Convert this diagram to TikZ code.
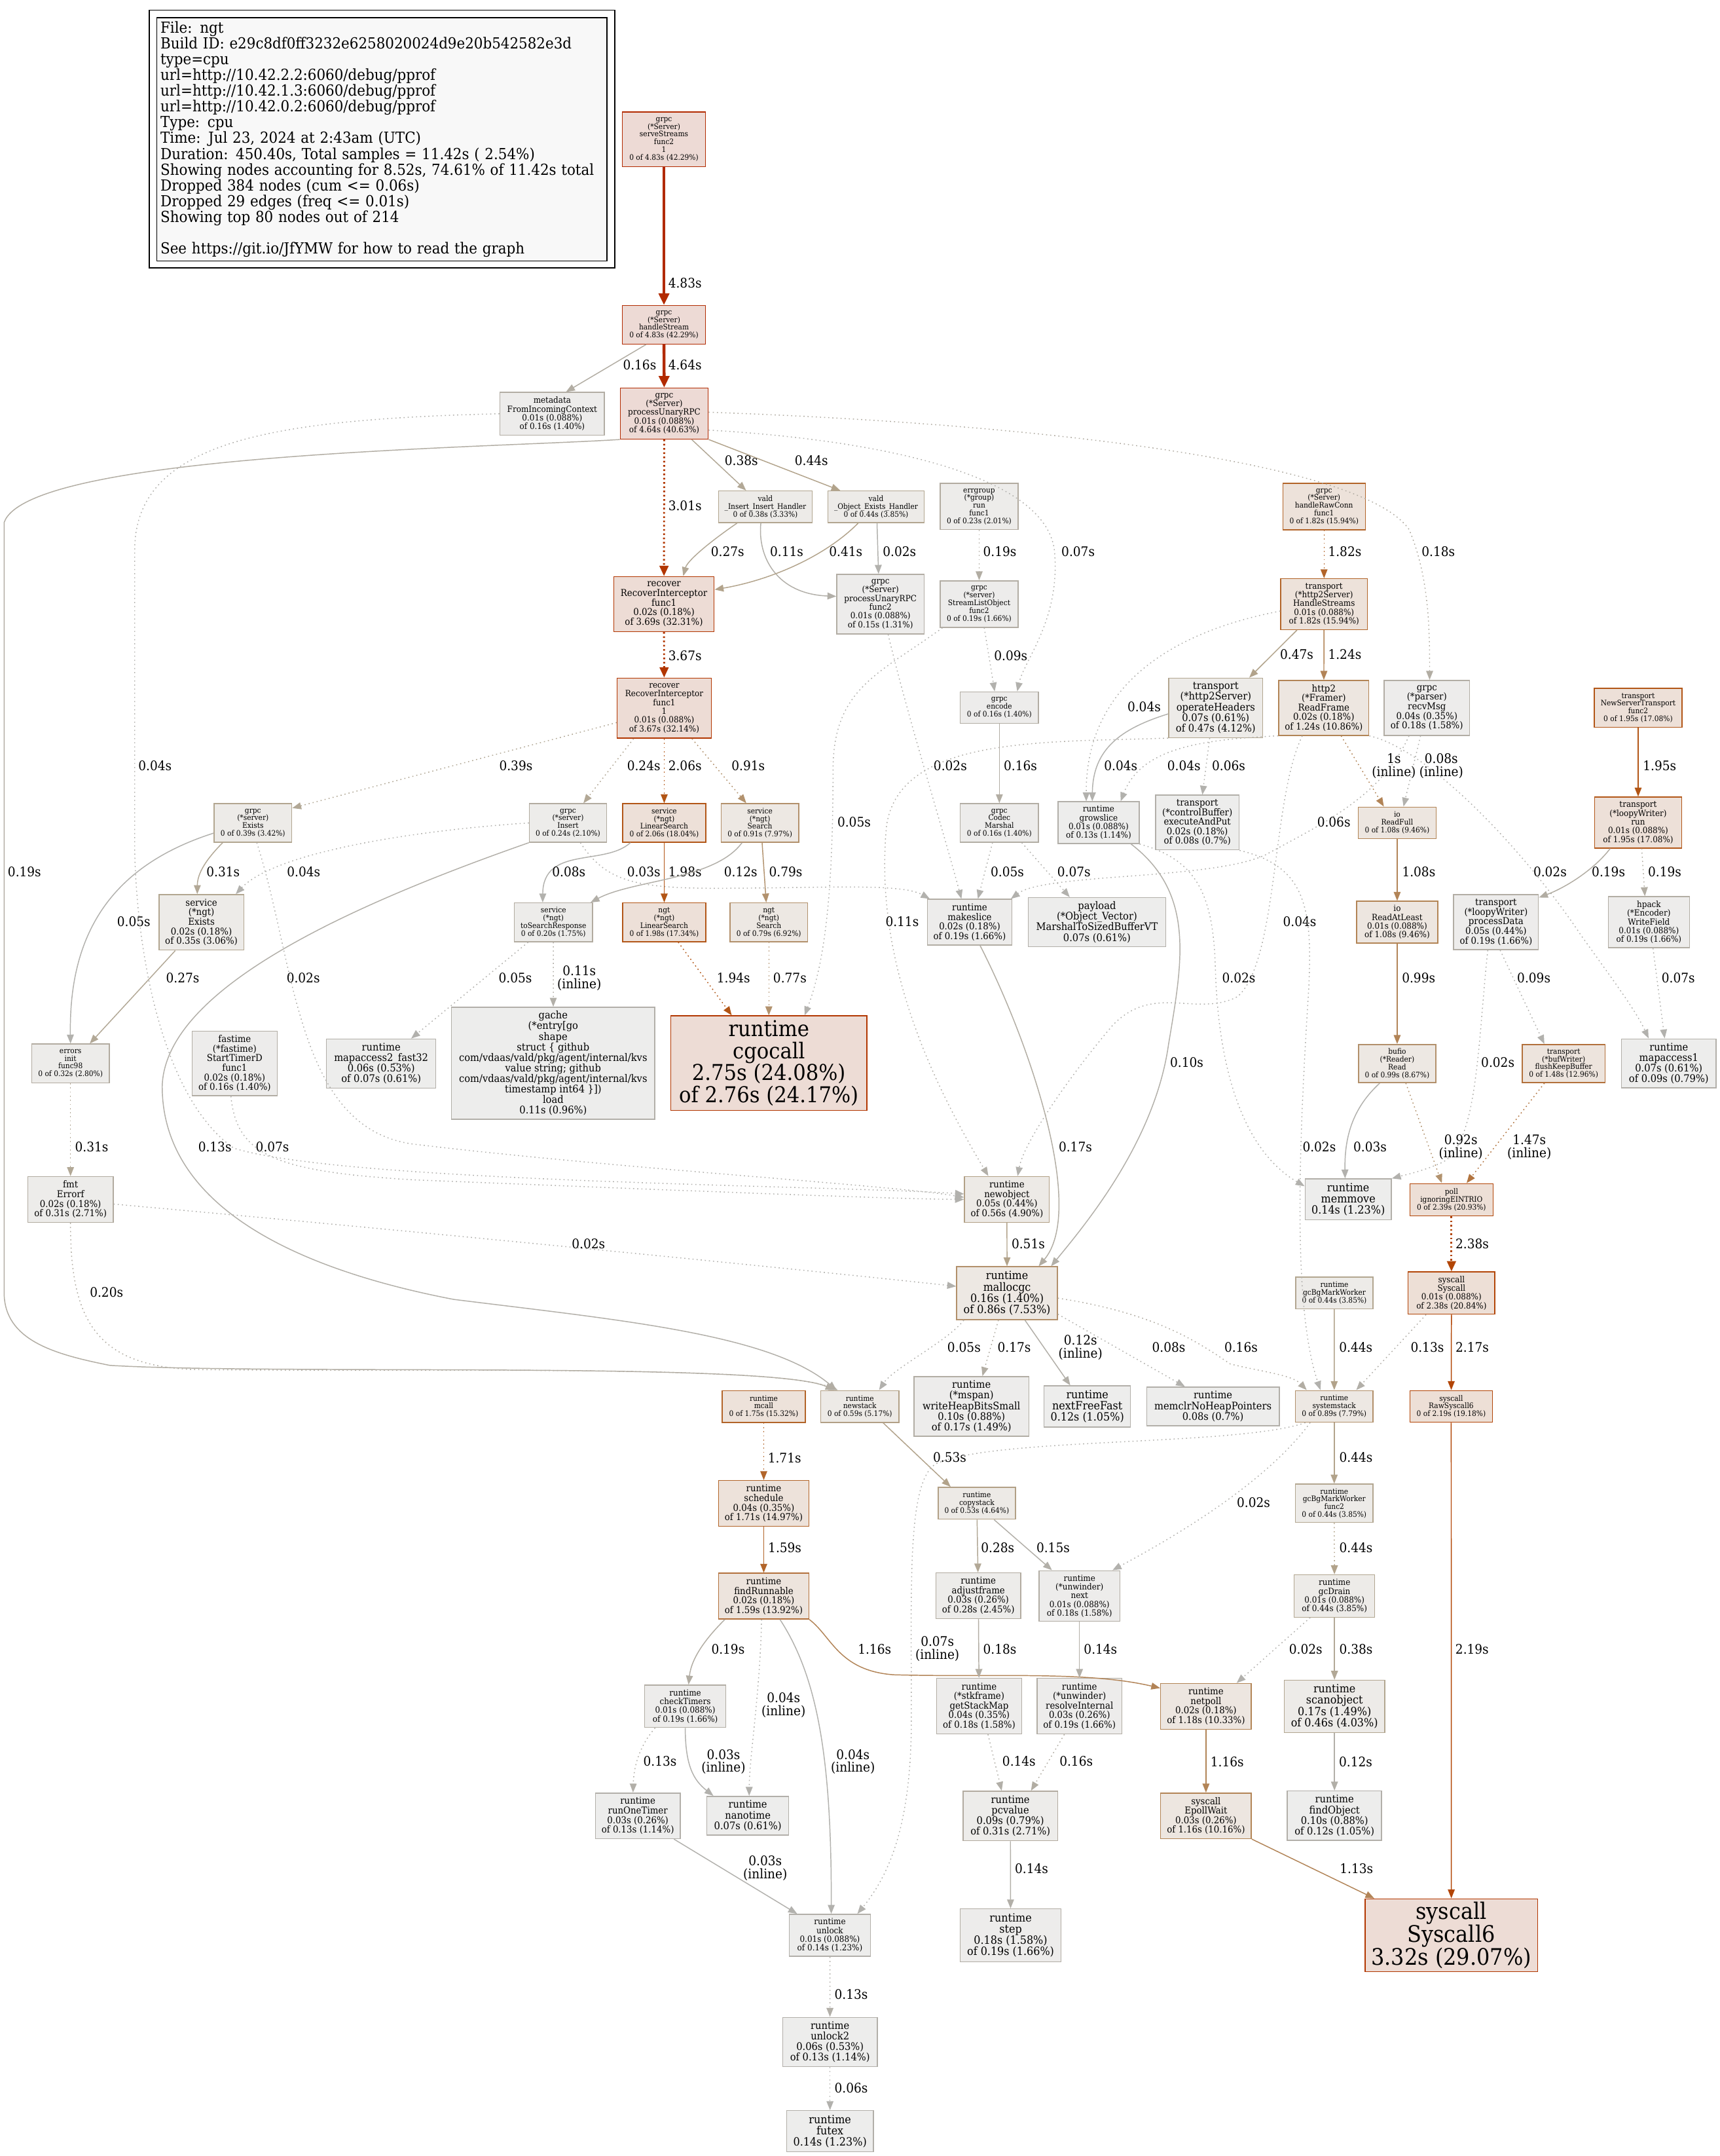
\documentclass[tikz,border=0pt]{standalone}
\usepackage{fontspec}
\setmainfont{DejaVu Serif}[FakeStretch=0.92]
\usetikzlibrary{arrows.meta}

% node colours (fill / border)
\definecolor{nhotf}{HTML}{EDDAD5}\definecolor{nhotd}{HTML}{B22A00}
\definecolor{nredf}{HTML}{EDDCD5}\definecolor{nredd}{HTML}{B23600}
\definecolor{nsysf}{HTML}{EDDFD6}\definecolor{nsysd}{HTML}{B24507}
\definecolor{noraf}{HTML}{EDE0D8}\definecolor{norad}{HTML}{B25617}
\definecolor{norbf}{HTML}{EDE2DA}\definecolor{norbd}{HTML}{B26428}
\definecolor{norcf}{HTML}{EDE4DD}\definecolor{norcd}{HTML}{B2703B}
\definecolor{ntanf}{HTML}{EDE6E0}\definecolor{ntand}{HTML}{B28455}
\definecolor{ntanbf}{HTML}{EDE8E3}\definecolor{ntanbd}{HTML}{B2906B}
\definecolor{nbeif}{HTML}{EDEAE6}\definecolor{nbeid}{HTML}{B2A086}
\definecolor{nbeibf}{HTML}{EDEBE8}\definecolor{nbeibd}{HTML}{B2A690}
\definecolor{ngryf}{HTML}{EDECEA}\definecolor{ngryd}{HTML}{B2ABA0}
\definecolor{ngrybf}{HTML}{EDECEB}\definecolor{ngrybd}{HTML}{B2ADA4}
\definecolor{ngrycf}{HTML}{EDEDEC}\definecolor{ngrycd}{HTML}{B2AFA9}
\definecolor{legfill}{HTML}{F8F8F8}
% edge colours
\definecolor{ehot}{HTML}{B22A00}
\definecolor{ered}{HTML}{B23600}
\definecolor{esys}{HTML}{B24505}
\definecolor{eora}{HTML}{B25515}
\definecolor{eorb}{HTML}{B2652A}
\definecolor{eorc}{HTML}{B2743F}
\definecolor{etan}{HTML}{B28457}
\definecolor{etanb}{HTML}{B2926E}
\definecolor{ebei}{HTML}{B2A38B}
\definecolor{ebeib}{HTML}{B2A896}
\definecolor{egry}{HTML}{B2ADA3}
\definecolor{egryb}{HTML}{B2AFA8}
\definecolor{egryc}{HTML}{B2B1AD}

\tikzset{
  fnbox/.style={draw, rectangle, inner sep=0pt, align=center, line width=0.7pt},
  f8/.style={font=\fontsize{5.52}{5.63}\selectfont},
  f9/.style={font=\fontsize{6.21}{6.35}\selectfont},
  f10/.style={font=\fontsize{6.9}{6.95}\selectfont},
  f11/.style={font=\fontsize{7.59}{7.65}\selectfont},
  f12/.style={font=\fontsize{8.28}{8.2}\selectfont},
  f23/.style={font=\fontsize{15.87}{16}\selectfont},
  f24/.style={font=\fontsize{16.56}{16.7}\selectfont},
  nHot/.style={fill=nhotf, draw=nhotd},
  nRed/.style={fill=nredf, draw=nredd},
  nSys/.style={fill=nsysf, draw=nsysd},
  nOra/.style={fill=noraf, draw=norad},
  nOrb/.style={fill=norbf, draw=norbd},
  nOrc/.style={fill=norcf, draw=norcd},
  nTan/.style={fill=ntanf, draw=ntand},
  nTanb/.style={fill=ntanbf, draw=ntanbd},
  nBei/.style={fill=nbeif, draw=nbeid},
  nBeib/.style={fill=nbeibf, draw=nbeibd},
  nGry/.style={fill=ngryf, draw=ngryd},
  nGryb/.style={fill=ngrybf, draw=ngrybd},
  nGryc/.style={fill=ngrycf, draw=ngrycd},
  legbox/.style={draw=black, fill=legfill, line width=0.7pt, inner sep=0pt,
    minimum width=327.5pt, minimum height=177pt, text width=322pt, align=left,
    font=\fontsize{11.1}{11.48}\selectfont},
  lab/.style={inner sep=0pt, align=center, font=\fontsize{9.6}{9.5}\selectfont},
  lbl/.style={lab, anchor=west},
  ln/.style={line width=0.7pt, -{Triangle[length=6.5pt,width=5pt]}},
  ew2/.style={line width=1.4pt, -{Triangle[length=7.5pt,width=6.5pt]}},
  ew3/.style={line width=2.1pt, -{Triangle[length=8.5pt,width=7.5pt]}},
  dotd/.style={dash pattern=on 0.8pt off 2.2pt},
  dotw/.style={dash pattern=on 1.2pt off 1.9pt},
  eHot/.style={draw=ehot}, eRed/.style={draw=ered}, eSys/.style={draw=esys},
  eOra/.style={draw=eora}, eOrb/.style={draw=eorb}, eOrc/.style={draw=eorc},
  eTan/.style={draw=etan}, eTanb/.style={draw=etanb},
  eBei/.style={draw=ebei}, eBeib/.style={draw=ebeib},
  eGry/.style={draw=egry}, eGryb/.style={draw=egryb}, eGryc/.style={draw=egryc}
}

\begin{document}
\begin{tikzpicture}[x=1pt, y=-1pt]
\useasboundingbox (0,0) rectangle (1251,1568);
\fill[white] (0,0) rectangle (1251,1568);

% legend
\node[legbox] (legend) at (277.75,101.3) {File: ngt\\Build ID: e29c8df0ff3232e6258020024d9e20b542582e3d\\type=cpu\\url=http://10.42.2.2:6060/debug/pprof\\url=http://10.42.1.3:6060/debug/pprof\\url=http://10.42.0.2:6060/debug/pprof\\Type: cpu\\Time: Jul 23, 2024 at 2:43am (UTC)\\Duration: 450.40s, Total samples = 11.42s ( 2.54\%)\\Showing nodes accounting for 8.52s, 74.61\% of 11.42s total\\Dropped 384 nodes (cum <= 0.06s)\\Dropped 29 edges (freq <= 0.01s)\\Showing top 80 nodes out of 214\\[11.48pt]See https://git.io/JfYMW for how to read the graph};
\draw[line width=0.7pt] ([shift={(-5pt,5pt)}]legend.north west) rectangle ([shift={(5.5pt,-4.7pt)}]legend.south east);

% nodes
\node[fnbox, f8, nHot, minimum width=60.4pt, minimum height=39.8pt] (serve) at (483,101.3) {grpc\\(*Server)\\serveStreams\\func2\\1\\0 of 4.83s (42.29\%)};
\node[fnbox, f8, nHot, minimum width=60.4pt, minimum height=28pt] (hstream) at (483,236.2) {grpc\\(*Server)\\handleStream\\0 of 4.83s (42.29\%)};
\node[fnbox, f9, nGryb, minimum width=76pt, minimum height=31pt] (meta) at (401.7,300.9) {metadata\\FromIncomingContext\\0.01s (0.088\%)\\of 0.16s (1.40\%)};
\node[fnbox, f9, nHot, minimum width=64pt, minimum height=37pt] (punary) at (483.2,300.8) {grpc\\(*Server)\\processUnaryRPC\\0.01s (0.088\%)\\of 4.64s (40.63\%)};
\node[fnbox, f8, nBeib, minimum width=68pt, minimum height=23pt] (vins) at (556.8,368.6) {vald\\\_Insert\_Insert\_Handler\\0 of 0.38s (3.33\%)};
\node[fnbox, f8, nBeib, minimum width=70pt, minimum height=23pt] (vobj) at (637.3,368.6) {vald\\\_Object\_Exists\_Handler\\0 of 0.44s (3.85\%)};
\node[fnbox, f8, nGry, minimum width=56.5pt, minimum height=33.6pt] (errg) at (712.3,368.4) {errgroup\\(*group)\\run\\func1\\0 of 0.23s (2.01\%)};
\node[fnbox, f8, nOrb, minimum width=60pt, minimum height=33.8pt] (hraw) at (963.2,368.4) {grpc\\(*Server)\\handleRawConn\\func1\\0 of 1.82s (15.94\%)};
\node[fnbox, f10, nRed, minimum width=73pt, minimum height=40pt] (rec1) at (483,439.3) {recover\\RecoverInterceptor\\func1\\0.02s (0.18\%)\\of 3.69s (32.31\%)};
\node[fnbox, f9, nGryb, minimum width=63.5pt, minimum height=43.4pt] (pfunc2) at (640.5,439.4) {grpc\\(*Server)\\processUnaryRPC\\func2\\0.01s (0.088\%)\\of 0.15s (1.31\%)};
\node[fnbox, f8, nGryb, minimum width=56.5pt, minimum height=33.8pt] (slist) at (712.3,439.3) {grpc\\(*server)\\StreamListObject\\func2\\0 of 0.19s (1.66\%)};
\node[fnbox, f9, nOrb, minimum width=63pt, minimum height=37pt] (hstreams) at (963.2,439.4) {transport\\(*http2Server)\\HandleStreams\\0.01s (0.088\%)\\of 1.82s (15.94\%)};
\node[fnbox, f9, nRed, minimum width=68.4pt, minimum height=43.8pt] (rec2) at (483.2,515) {recover\\RecoverInterceptor\\func1\\1\\0.01s (0.088\%)\\of 3.67s (32.14\%)};
\node[fnbox, f8, nGryb, minimum width=57pt, minimum height=23pt] (encode) at (727,514.7) {grpc\\encode\\0 of 0.16s (1.40\%)};
\node[fnbox, f11, nBeib, minimum width=68.5pt, minimum height=43.3pt] (ophdr) at (884.4,514.8) {transport\\(*http2Server)\\operateHeaders\\0.07s (0.61\%)\\of 0.47s (4.12\%)};
\node[fnbox, f10, nTan, minimum width=65.6pt, minimum height=40pt] (rframe) at (963,514.8) {http2\\(*Framer)\\ReadFrame\\0.02s (0.18\%)\\of 1.24s (10.86\%)};
\node[fnbox, f10, nGryb, minimum width=62pt, minimum height=40pt] (recvmsg) at (1038,514.8) {grpc\\(*parser)\\recvMsg\\0.04s (0.35\%)\\of 0.18s (1.58\%)};
\node[fnbox, f8, nOra, minimum width=63.8pt, minimum height=28.2pt] (nst) at (1191.7,514.8) {transport\\NewServerTransport\\func2\\0 of 1.95s (17.08\%)};
\node[fnbox, f8, nBeib, minimum width=56.5pt, minimum height=28pt] (gexists) at (184,598.5) {grpc\\(*server)\\Exists\\0 of 0.39s (3.42\%)};
\node[fnbox, f8, nGry, minimum width=56.2pt, minimum height=28pt] (ginsert) at (413.2,598.5) {grpc\\(*server)\\Insert\\0 of 0.24s (2.10\%)};
\node[fnbox, f8, nOra, minimum width=60.4pt, minimum height=28pt] (slin) at (483.2,598.5) {service\\(*ngt)\\LinearSearch\\0 of 2.06s (18.04\%)};
\node[fnbox, f8, nTanb, minimum width=56.5pt, minimum height=28pt] (ssearch) at (552.8,598.5) {service\\(*ngt)\\Search\\0 of 0.91s (7.97\%)};
\node[fnbox, f8, nGryb, minimum width=56.8pt, minimum height=28pt] (marshal) at (727,598.5) {grpc\\Codec\\Marshal\\0 of 0.16s (1.40\%)};
\node[fnbox, f9, nGryc, minimum width=59pt, minimum height=30.4pt] (growslice) at (799.2,598.3) {runtime\\growslice\\0.01s (0.088\%)\\of 0.13s (1.14\%)};
\node[fnbox, f10, nGryc, minimum width=60.8pt, minimum height=39.8pt] (execput) at (871,598.2) {transport\\(*controlBuffer)\\executeAndPut\\0.02s (0.18\%)\\of 0.08s (0.7\%)};
\node[fnbox, f8, nTan, minimum width=56.7pt, minimum height=22.9pt] (rfull) at (1016.4,598.4) {io\\ReadFull\\0 of 1.08s (9.46\%)};
\node[fnbox, f9, nOra, minimum width=63.2pt, minimum height=37pt] (lrun) at (1191.7,598.2) {transport\\(*loopyWriter)\\run\\0.01s (0.088\%)\\of 1.95s (17.08\%)};
\node[fnbox, f10, nBeib, minimum width=61.7pt, minimum height=40.4pt] (sexists) at (146.5,670.8) {service\\(*ngt)\\Exists\\0.02s (0.18\%)\\of 0.35s (3.06\%)};
\node[fnbox, f8, nGry, minimum width=56.8pt, minimum height=28.2pt] (tosr) at (402.6,670.8) {service\\(*ngt)\\toSearchResponse\\0 of 0.20s (1.75\%)};
\node[fnbox, f8, nOra, minimum width=60.4pt, minimum height=28.2pt] (nlin) at (483.2,670.8) {ngt\\(*ngt)\\LinearSearch\\0 of 1.98s (17.34\%)};
\node[fnbox, f8, nTanb, minimum width=56.5pt, minimum height=28.2pt] (nsearch) at (559.3,670.8) {ngt\\(*ngt)\\Search\\0 of 0.79s (6.92\%)};
\node[fnbox, f10, nGryb, minimum width=61.3pt, minimum height=33.3pt] (makeslice) at (705.4,670.7) {runtime\\makeslice\\0.02s (0.18\%)\\of 0.19s (1.66\%)};
\node[fnbox, f11, nGryc, minimum width=100pt, minimum height=35.7pt] (payload) at (798,670.7) {payload\\(*Object\_Vector)\\MarshalToSizedBufferVT\\0.07s (0.61\%)};
\node[fnbox, f9, nTan, minimum width=59pt, minimum height=30.4pt] (ratl) at (1016.4,670.7) {io\\ReadAtLeast\\0.01s (0.088\%)\\of 1.08s (9.46\%)};
\node[fnbox, f10, nGryb, minimum width=61.7pt, minimum height=40pt] (pdata) at (1088.3,670.7) {transport\\(*loopyWriter)\\processData\\0.05s (0.44\%)\\of 0.19s (1.66\%)};
\node[fnbox, f9, nGryb, minimum width=59pt, minimum height=37.2pt] (hpack) at (1199.5,670.7) {hpack\\(*Encoder)\\WriteField\\0.01s (0.088\%)\\of 0.19s (1.66\%)};
\node[fnbox, f8, nGry, minimum width=56.5pt, minimum height=28.2pt] (einit) at (51.3,773.4) {errors\\init\\func98\\0 of 0.32s (2.80\%)};
\node[fnbox, f10, nGryb, minimum width=62pt, minimum height=47pt] (fastime) at (170.7,773.4) {fastime\\(*fastime)\\StartTimerD\\func1\\0.02s (0.18\%)\\of 0.16s (1.40\%)};
\node[fnbox, f11, nGryc, minimum width=79.5pt, minimum height=35.7pt] (mapacc2) at (277.3,773.5) {runtime\\mapaccess2\_fast32\\0.06s (0.53\%)\\of 0.07s (0.61\%)};
\node[fnbox, f11, nGryc, minimum width=148pt, minimum height=81.4pt] (gache) at (402.4,773.2) {gache\\(*entry[go\\shape\\struct \{ github\\com/vdaas/vald/pkg/agent/internal/kvs\\value string; github\\com/vdaas/vald/pkg/agent/internal/kvs\\timestamp int64 \}])\\load\\0.11s (0.96\%)};
\node[fnbox, f23, nRed, minimum width=142.7pt, minimum height=68.8pt] (cgocall) at (559.3,773.2) {runtime\\cgocall\\2.75s (24.08\%)\\of 2.76s (24.17\%)};
\node[fnbox, f8, nTanb, minimum width=56.3pt, minimum height=27.8pt] (bread) at (1016.4,773.5) {bufio\\(*Reader)\\Read\\0 of 0.99s (8.67\%)};
\node[fnbox, f8, nOrc, minimum width=60.2pt, minimum height=27.8pt] (fkb) at (1137.5,773.5) {transport\\(*bufWriter)\\flushKeepBuffer\\0 of 1.48s (12.96\%)};
\node[fnbox, f11, nGryc, minimum width=68.7pt, minimum height=35.5pt] (mapacc1) at (1214,773.3) {runtime\\mapaccess1\\0.07s (0.61\%)\\of 0.09s (0.79\%)};
\node[fnbox, f10, nGry, minimum width=62pt, minimum height=33.3pt] (errorf) at (51.3,872.3) {fmt\\Errorf\\0.02s (0.18\%)\\of 0.31s (2.71\%)};
\node[fnbox, f10, nBei, minimum width=61.7pt, minimum height=33.3pt] (newobj) at (732.5,872.3) {runtime\\newobject\\0.05s (0.44\%)\\of 0.56s (4.90\%)};
\node[fnbox, f12, nGryc, minimum width=62.8pt, minimum height=29.8pt] (memmove) at (980.8,872.3) {runtime\\memmove\\0.14s (1.23\%)};
\node[fnbox, f8, nSys, minimum width=60.5pt, minimum height=23.4pt] (poll) at (1055.9,872.5) {poll\\ignoringEINTRIO\\0 of 2.39s (20.93\%)};
\node[fnbox, f12, nTanb, minimum width=73.3pt, minimum height=38.5pt] (mallocgc) at (732.6,940.5) {runtime\\mallocgc\\0.16s (1.40\%)\\of 0.86s (7.53\%)};
\node[fnbox, f8, nBeib, minimum width=56.3pt, minimum height=23pt] (gcbg) at (970.7,940.3) {runtime\\gcBgMarkWorker\\0 of 0.44s (3.85\%)};
\node[fnbox, f9, nSys, minimum width=63.1pt, minimum height=30.8pt] (syscall) at (1055.9,940.4) {syscall\\Syscall\\0.01s (0.088\%)\\of 2.38s (20.84\%)};
\node[fnbox, f8, nOrb, minimum width=60.7pt, minimum height=23.2pt] (mcall) at (555.6,1022.9) {runtime\\mcall\\0 of 1.75s (15.32\%)};
\node[fnbox, f8, nBei, minimum width=57pt, minimum height=23.2pt] (newstack) at (625.5,1022.9) {runtime\\newstack\\0 of 0.59s (5.17\%)};
\node[fnbox, f11, nGryb, minimum width=83.4pt, minimum height=43.4pt] (whbs) at (706.7,1022.8) {runtime\\(*mspan)\\writeHeapBitsSmall\\0.10s (0.88\%)\\of 0.17s (1.49\%)};
\node[fnbox, f12, nGryc, minimum width=62.9pt, minimum height=30pt] (nff) at (791,1022.9) {runtime\\nextFreeFast\\0.12s (1.05\%)};
\node[fnbox, f11, nGryc, minimum width=96.5pt, minimum height=28pt] (memclr) at (882.4,1022.8) {runtime\\memclrNoHeapPointers\\0.08s (0.7\%)};
\node[fnbox, f8, nTanb, minimum width=56.6pt, minimum height=23pt] (sysstack) at (970.6,1022.8) {runtime\\systemstack\\0 of 0.89s (7.79\%)};
\node[fnbox, f8, nSys, minimum width=60pt, minimum height=23pt] (raw6) at (1055.7,1022.8) {syscall\\RawSyscall6\\0 of 2.19s (19.18\%)};
\node[fnbox, f10, nOrb, minimum width=65.6pt, minimum height=33.3pt] (sched) at (555.6,1093.4) {runtime\\schedule\\0.04s (0.35\%)\\of 1.71s (14.97\%)};
\node[fnbox, f8, nBei, minimum width=56.2pt, minimum height=23.2pt] (copystack) at (710.6,1093.3) {runtime\\copystack\\0 of 0.53s (4.64\%)};
\node[fnbox, f8, nBeib, minimum width=56.6pt, minimum height=27.9pt] (gcbgf2) at (970.6,1093.3) {runtime\\gcBgMarkWorker\\func2\\0 of 0.44s (3.85\%)};
\node[fnbox, f10, nOrc, minimum width=65.6pt, minimum height=33.3pt] (findrun) at (555.6,1160.8) {runtime\\findRunnable\\0.02s (0.18\%)\\of 1.59s (13.92\%)};
\node[fnbox, f10, nGry, minimum width=61.7pt, minimum height=33.1pt] (adjf) at (711.7,1160.5) {runtime\\adjustframe\\0.03s (0.26\%)\\of 0.28s (2.45\%)};
\node[fnbox, f9, nGryb, minimum width=58.9pt, minimum height=36.8pt] (unext) at (785.3,1160.7) {runtime\\(*unwinder)\\next\\0.01s (0.088\%)\\of 0.18s (1.58\%)};
\node[fnbox, f9, nBeib, minimum width=58.6pt, minimum height=30.8pt] (gcdrain) at (970.8,1160.7) {runtime\\gcDrain\\0.01s (0.088\%)\\of 0.44s (3.85\%)};
\node[fnbox, f9, nGryb, minimum width=59pt, minimum height=30.8pt] (checkt) at (498.5,1240.9) {runtime\\checkTimers\\0.01s (0.088\%)\\of 0.19s (1.66\%)};
\node[fnbox, f10, nGryb, minimum width=62pt, minimum height=40.4pt] (gsm) at (712.3,1240.8) {runtime\\(*stkframe)\\getStackMap\\0.04s (0.35\%)\\of 0.18s (1.58\%)};
\node[fnbox, f10, nGryb, minimum width=61.6pt, minimum height=40.4pt] (resint) at (785.3,1240.8) {runtime\\(*unwinder)\\resolveInternal\\0.03s (0.26\%)\\of 0.19s (1.66\%)};
\node[fnbox, f10, nTan, minimum width=65.9pt, minimum height=33.3pt] (netpoll) at (877.3,1241) {runtime\\netpoll\\0.02s (0.18\%)\\of 1.18s (10.33\%)};
\node[fnbox, f12, nBeib, minimum width=73.2pt, minimum height=38pt] (scanobj) at (970.8,1241) {runtime\\scanobject\\0.17s (1.49\%)\\of 0.46s (4.03\%)};
\node[fnbox, f10, nGryc, minimum width=61.6pt, minimum height=33.2pt] (runone) at (464,1320.6) {runtime\\runOneTimer\\0.03s (0.26\%)\\of 0.13s (1.14\%)};
\node[fnbox, f11, nGryc, minimum width=59.5pt, minimum height=28.2pt] (nanotime) at (544,1320.5) {runtime\\nanotime\\0.07s (0.61\%)};
\node[fnbox, f11, nGry, minimum width=68.7pt, minimum height=36pt] (pcvalue) at (735,1320.7) {runtime\\pcvalue\\0.09s (0.79\%)\\of 0.31s (2.71\%)};
\node[fnbox, f10, nTan, minimum width=65.9pt, minimum height=33.1pt] (epoll) at (877.3,1320.6) {syscall\\EpollWait\\0.03s (0.26\%)\\of 1.16s (10.16\%)};
\node[fnbox, f11, nGryc, minimum width=68.6pt, minimum height=35.9pt] (findobj) at (970.8,1320.5) {runtime\\findObject\\0.10s (0.88\%)\\of 0.12s (1.05\%)};
\node[fnbox, f9, nGryc, minimum width=59.2pt, minimum height=30.6pt] (unlock) at (603.7,1407.5) {runtime\\unlock\\0.01s (0.088\%)\\of 0.14s (1.23\%)};
\node[fnbox, f12, nGryb, minimum width=73.2pt, minimum height=38.4pt] (step) at (735.2,1407.5) {runtime\\step\\0.18s (1.58\%)\\of 0.19s (1.66\%)};
\node[fnbox, f24, nRed, minimum width=125.6pt, minimum height=53pt] (sys6) at (1055.8,1407.5) {syscall\\Syscall6\\3.32s (29.07\%)};
\node[fnbox, f11, nGryc, minimum width=68.7pt, minimum height=35.7pt] (unlock2) at (603.8,1485) {runtime\\unlock2\\0.06s (0.53\%)\\of 0.13s (1.14\%)};
\node[fnbox, f12, nGryc, minimum width=63.2pt, minimum height=30pt] (futex) at (603.8,1550) {runtime\\futex\\0.14s (1.23\%)};

% edges, top part
\draw[ew3, eHot] (serve) -- (hstream);
\node[lbl] (lab1) at (486,206) {4.83s};
\draw[ln, eGry] ([xshift=-13pt]hstream.south) -- ([xshift=10pt]meta.north);
\node[lbl] (lab2) at (453,265.5) {0.16s};
\draw[ew3, eHot] (hstream) -- (punary);
\node[lbl] (lab3) at (486,265.5) {4.64s};
\draw[ew2, eRed, dotw] (punary) -- (rec1);
\node[lbl] (lab4) at (486,368) {3.01s};
\draw[ln, eBeib] ([xshift=20pt]punary.south) -- ([xshift=-14pt]vins.north);
\node[lbl] (lab5) at (527,335) {0.38s};
\draw[ln, eBei] (punary.south east) -- ([xshift=-26pt]vobj.north);
\node[lbl] (lab6) at (578,335) {0.44s};
\draw[ln, eBeib] ([xshift=-20.6pt]vins.south) .. controls (515,395) and (500,408) .. ([xshift=14pt]rec1.north);
\node[lbl] (lab7) at (517,401) {0.27s};
\draw[ln, eGryb] ([xshift=-3.3pt]vins.south) .. controls (551,405) and (565,432) .. ([yshift=5.7pt]pfunc2.west);
\node[lbl] (lab8) at (560,401) {0.11s};
\draw[ln, eBei] ([xshift=-13pt]vobj.south) .. controls (600,405) and (560,422) .. ([yshift=10.5pt]rec1.east);
\node[lbl] (lab9) at (603,401) {0.41s};
\draw[ln, eGryc] ([xshift=0.7pt]vobj.south) -- ([xshift=-1.4pt]pfunc2.north);
\node[lbl] (lab10) at (642,401) {0.02s};
\draw[ln, eGry, dotd] (errg) -- (slist);
\node[lbl] (lab11) at (715,401) {0.19s};
\draw[ln, eGryc, dotd] ([yshift=-12pt]punary.east) .. controls (640,320) and (760,345) .. (767,400) .. controls (772,450) and (745,480) .. ([xshift=13pt]encode.north);
\node[lbl] (lab12) at (772,401) {0.07s};
\draw[ln, eGry, dotd] ([yshift=1pt]punary.east) .. controls (750,308) and (990,335) .. (1025,385) .. controls (1040,420) and (1040,460) .. ([xshift=2pt]recvmsg.north);
\node[lbl] (lab13) at (1034,401) {0.18s};
\draw[ln, eOrb, dotd] (hraw) -- (hstreams);
\node[lbl] (lab14) at (966,401) {1.82s};
\draw[ew2, eRed, dotw] (rec1) -- (rec2);
\node[lbl] (lab15) at (486,477) {3.67s};
\draw[ln, eGryc, dotd] ([xshift=3.7pt]slist.south) -- ([xshift=-3.4pt]encode.north);
\node[lbl] (lab16) at (723,477) {0.09s};
\draw[ln, eBei] ([xshift=-19.7pt]hstreams.south) -- ([xshift=24.4pt]ophdr.north);
\node[lbl] (lab17) at (931,476) {0.47s};
\draw[ln, eTan] (hstreams) -- (rframe);
\node[lbl] (lab18) at (966,476) {1.24s};
\draw[ln, eGryc, dotd] ([xshift=-26.7pt]slist.south) .. controls (640,490) and (606,500) .. (606,560) .. controls (606,650) and (600,700) .. ([xshift=26pt]cgocall.north);
\node[lbl] (lab19) at (609,598) {0.05s};
\draw[ln, eGryc, dotd] ([xshift=5.6pt]pfunc2.south) .. controls (660,520) and (685,600) .. ([xshift=-6pt]makeslice.north);
\node[lbl] (lab20) at (679,557) {0.02s};
\draw[ln, eGry] (encode) -- (marshal);
\node[lbl] (lab21) at (730,557) {0.16s};

% edges below the second recover
\draw[ln, eBeib, dotd] ([yshift=-10.5pt]rec2.west) -- ([yshift=10.8pt]gexists.east);
\node[lbl] (lab22) at (363,557) {0.39s};
\draw[ln, eBeib, dotd] ([xshift=-22.3pt]rec2.south) -- ([xshift=11.2pt]ginsert.north);
\node[lbl] (lab23) at (456,557) {0.24s};
\draw[ln, eOra, dotd] (rec2) -- (slin);
\node[lbl] (lab24) at (486,557) {2.06s};
\draw[ln, eTanb, dotd] ([xshift=20.2pt]rec2.south) -- ([xshift=-9.9pt]ssearch.north);
\node[lbl] (lab25) at (532,557) {0.91s};
\draw[ln, eGryc, dotd] ([yshift=-5pt]hstreams.west) .. controls (850,460) and (790,500) .. ([xshift=-9pt]growslice.north);
\node[lbl] (lab26) at (803,557) {0.04s};
\draw[ln, eGryc] ([yshift=-4.4pt]ophdr.west) .. controls (815,530) and (795,545) .. ([xshift=-4.6pt]growslice.north);
\node[lbl] (lab27) at (820,514) {0.04s};
\draw[ln, eGryc, dotd] (rframe.south west) .. controls (870,538) and (830,545) .. ([xshift=16pt]growslice.north);
\node[lbl] (lab28) at (849,557) {0.04s};
\draw[ln, eGryc, dotd] ([xshift=-4.4pt]ophdr.south) -- ([xshift=3.7pt]execput.north);
\node[lbl] (lab29) at (881.5,557) {0.06s};
\draw[ln, eGryb, dotd] (ophdr.south west) .. controls (760,540) and (655,535) .. (645,600) .. controls (635,700) and (680,790) .. ([xshift=-13.5pt]newobj.north);
\node[lbl] (lab30) at (644,670) {0.11s};
\draw[ln, eTan, dotd] ([xshift=12.6pt]rframe.south) -- ([xshift=-9.7pt]rfull.north);
\node[lab] (lab31) at (1014,557) {1s\\(inline)};
\draw[ln, eGryc, dotd] ([xshift=-4.6pt]recvmsg.south) -- ([xshift=4.6pt]rfull.north);
\node[lab] (lab32) at (1048.5,557) {0.08s\\(inline)};
\draw[ln, eGryc, dotd] ([xshift=-13pt]recvmsg.south) .. controls (1005,580) and (960,600) .. (920,622) .. controls (880,640) and (760,635) .. ([xshift=30pt]makeslice.north);
\node[lbl] (lab33) at (958,598) {0.06s};
\draw[ln, eOra] (nst) -- (lrun);
\node[lbl] (lab34) at (1195,557) {1.95s};
\draw[ln, eGryc, dotd] ([xshift=-5pt]marshal.south) -- ([xshift=6pt]makeslice.north);
\node[lbl] (lab35) at (720.5,634) {0.05s};
\draw[ln, eGryc, dotd] ([xshift=16.3pt]marshal.south) -- ([xshift=-19.8pt]payload.north);
\node[lbl] (lab36) at (769,634) {0.07s};
\draw[ln, eGryc, dotd] ([xshift=9pt]ginsert.south) .. controls (440,640) and (460,646) .. (520,646) .. controls (600,646) and (655,642) .. ([xshift=2pt]makeslice.north west);
\node[lbl] (lab37) at (456,634) {0.03s};
\draw[ln, eOra] (slin) -- (nlin);
\node[lbl] (lab38) at (486,634) {1.98s};
\draw[ln, eGryc] ([xshift=-24.6pt]slin.south) .. controls (440,630) and (395,615) .. ([xshift=-7.8pt]tosr.north);
\node[lbl] (lab39) at (401.5,634) {0.08s};
\draw[ln, eGryb] ([xshift=-13pt]ssearch.south) .. controls (520,640) and (460,640) .. ([xshift=27pt]tosr.north);
\node[lbl] (lab40) at (526.5,634) {0.12s};
\draw[ln, eTanb] ([xshift=1.6pt]ssearch.south) -- ([xshift=-1.9pt]nsearch.north);
\node[lbl] (lab41) at (559.3,634) {0.79s};

% left part
\draw[ln, eBeib] ([xshift=-22pt]gexists.south) .. controls (150,625) and (143.6,635) .. ([xshift=-3pt]sexists.north);
\node[lbl] (lab42) at (150,634) {0.31s};
\draw[ln, eGryc, dotd] (ginsert.west) .. controls (300,604) and (200,620) .. ([xshift=25pt]sexists.north);
\node[lbl] (lab43) at (208.6,634) {0.04s};
\draw[ln, eGryc] ([yshift=-7.4pt]gexists.west) .. controls (80,630) and (50,680) .. (einit.north);
\node[lbl] (lab44) at (85,670) {0.05s};
\draw[ln, eBeib] ([xshift=-19pt]sexists.south) -- ([xshift=14pt]einit.north);
\node[lbl] (lab45) at (120.6,711) {0.27s};
\draw[ln, eGryc, dotd] ([xshift=2.8pt]gexists.south) .. controls (215,700) and (215,820) .. (300,832) .. controls (450,850) and (650,862) .. ([yshift=1.5pt]newobj.west);
\node[lbl] (lab46) at (208.3,711) {0.02s};
\draw[ln, eGryc, dotd] ([xshift=-18.4pt]tosr.south) -- ([xshift=21.8pt]mapacc2.north);
\node[lbl] (lab47) at (362.6,711) {0.05s};
\draw[ln, eGryb, dotd] (tosr) -- (gache);
\node[lab] (lab48) at (421.4,711.2) {0.11s\\(inline)};
\draw[ln, eOra, dotd] ([xshift=10.2pt]nlin.south) -- ([xshift=-27pt]cgocall.north);
\node[lbl] (lab49) at (521.3,711) {1.94s};
\draw[ln, eTanb, dotd] (nsearch) -- (cgocall);
\node[lbl] (lab50) at (562.3,711) {0.77s};
\draw[ln, eBeib, dotd] (einit) -- (errorf);
\node[lbl] (lab67) at (54.4,834.1) {0.31s};
\draw[ln, eGryc, dotd] ([xshift=-2.7pt]fastime.south) .. controls (172,840) and (200,852) .. (300,858) .. controls (500,866) and (650,872) .. (newobj.west);
\node[lbl] (lab68) at (185.9,834.1) {0.07s};
\draw[ln, eGryc, dotd] (meta.west) .. controls (200,305) and (98,320) .. (98,400) -- (98,620) .. controls (100,700) and (120,800) .. (170,835) .. controls (250,860) and (600,862) .. ([yshift=4pt]newobj.west);
\node[lbl] (lab69) at (100.5,556.8) {0.04s};
\draw[ln, eGry] (punary.south west) .. controls (350,326) and (20,330) .. (3,380) -- (3,940) .. controls (3,975) and (40,985) .. (80,993) .. controls (200,1000) and (560,990) .. ([xshift=-18.5pt]newstack.north);
\node[lbl] (lab70) at (5.5,634.1) {0.19s};
\draw[ln, eGryb] (ginsert.south west) .. controls (250,660) and (120,720) .. (118,790) .. controls (118,870) and (200,920) .. (330,945) .. controls (450,960) and (560,970) .. ([xshift=-17pt]newstack.north);
\node[lbl] (lab71) at (144,834.1) {0.13s};
\draw[ln, eGry, dotd] (errorf.south) .. controls (51,960) and (70,993) .. (140,996) .. controls (300,998) and (560,992) .. ([xshift=-16pt]newstack.north);
\node[lbl] (lab72) at (65.2,939.9) {0.20s};
\draw[ln, eGryc, dotd] ([yshift=-3.4pt]errorf.east) .. controls (300,895) and (600,925) .. ([yshift=5pt]mallocgc.west);
\node[lbl] (lab73) at (415.8,904.6) {0.02s};

% right part
\draw[ln, eGryc, dotd] ([xshift=-15.6pt]rframe.south) .. controls (925,580) and (930,700) .. (900,725) .. controls (870,740) and (840,715) .. (810,745) .. controls (780,780) and (745,830) .. ([xshift=7.8pt]newobj.north);
\node[lbl] (lab55) at (933.2,670.3) {0.04s};
\draw[ln, eGryc, dotd] (rframe.south east) .. controls (1040,545) and (1110,620) .. (1150,680) .. controls (1175,715) and (1190,735) .. ([xshift=-14.7pt]mapacc1.north);
\node[lbl] (lab56) at (1115.3,634.1) {0.02s};
\draw[ln, eTan] (rfull) -- (ratl);
\node[lbl] (lab57) at (1019.8,634.1) {1.08s};
\draw[ln, eGry] ([xshift=-20.3pt]lrun.south) .. controls (1160,632) and (1140,645) .. ([yshift=-2.4pt]pdata.north east);
\node[lbl] (lab58) at (1157.8,634.1) {0.19s};
\draw[ln, eGry, dotd] ([xshift=2.6pt]lrun.south) -- ([xshift=-2.9pt]hpack.north);
\node[lbl] (lab59) at (1198.7,634.1) {0.19s};
\draw[ln, eTan] (ratl) -- (bread);
\node[lbl] (lab60) at (1019.7,711) {0.99s};
\draw[ln, eGryc, dotd] ([xshift=3pt]pdata.south) -- ([xshift=-14pt]fkb.north);
\node[lbl] (lab61) at (1103.5,711) {0.09s};
\draw[ln, eGryc, dotd] ([xshift=3pt]hpack.south) -- ([xshift=-3pt]mapacc1.north);
\node[lbl] (lab62) at (1208.6,711) {0.07s};
\draw[ln, eGryc, dotd] ([xshift=-6pt]pdata.south) .. controls (1075,760) and (1075,830) .. (1050,845) .. controls (1035,852) and (1020,855) .. (memmove.north east);
\node[lbl] (lab63) at (1077.3,772.6) {0.02s};
\draw[ln, eGryc] ([xshift=-12.7pt]bread.south) .. controls (985,805) and (978,825) .. ([xshift=-2.3pt]memmove.north);
\node[lbl] (lab64) at (984.4,834.2) {0.03s};
\draw[ln, eTanb, dotd] ([xshift=6.3pt]bread.south) -- ([xshift=-7pt]poll.north);
\node[lab] (lab65) at (1062.7,834.1) {0.92s\\(inline)};
\draw[ln, eOrc, dotd] ([xshift=-14pt]fkb.south) -- ([xshift=11pt]poll.north);
\node[lab] (lab66) at (1112.5,834.1) {1.47s\\(inline)};

% middle part
\draw[ln, eGry] ([xshift=7.6pt]makeslice.south) .. controls (750,760) and (790,880) .. ([xshift=23pt]mallocgc.north);
\node[lbl] (lab51) at (770,834) {0.17s};
\draw[ln, eGryb] ([xshift=23.6pt]growslice.south) .. controls (870,650) and (860,700) .. (850,760) .. controls (840,830) and (790,890) .. ([xshift=32pt]mallocgc.north);
\node[lbl] (lab52) at (851,772.6) {0.10s};
\draw[ln, eGryc, dotd] (growslice.south east) .. controls (870,625) and (882,650) .. (884,700) .. controls (886,790) and (910,840) .. ([yshift=9.6pt]memmove.west);
\node[lbl] (lab53) at (888.9,711) {0.02s};
\draw[ln, eGryc, dotd] (execput.south east) .. controls (950,630) and (955,660) .. (952,720) .. controls (945,830) and (940,950) .. ([xshift=-10pt]sysstack.north);
\node[lbl] (lab54) at (947.4,834.2) {0.02s};
\draw[ln, eBei] (newobj) -- (mallocgc);
\node[lbl] (lab74) at (735.7,904.6) {0.51s};
\draw[ew2, eSys, dotw] (poll) -- (syscall);
\node[lbl] (lab75) at (1058.7,904.6) {2.38s};
\draw[ln, eGryc, dotd] ([xshift=-31.5pt]mallocgc.south) .. controls (690,975) and (650,995) .. ([xshift=14pt]newstack.north);
\node[lbl] (lab76) at (689,980) {0.05s};
\draw[ln, eGry, dotd] ([xshift=-6.3pt]mallocgc.south) -- ([xshift=8pt]whbs.north);
\node[lbl] (lab77) at (725.5,980) {0.17s};
\draw[ln, eGryb] ([xshift=13pt]mallocgc.south) -- ([xshift=-12.4pt]nff.north);
\node[lab] (lab78) at (786,979.9) {0.12s\\(inline)};
\draw[ln, eGryc, dotd] ([yshift=-15.3pt]mallocgc.east) -- ([xshift=-20.4pt]memclr.north);
\node[lbl] (lab79) at (837.9,979.6) {0.08s};
\draw[ln, eGry, dotd] ([yshift=-3.6pt]mallocgc.east) .. controls (840,955) and (870,975) .. (895,992) .. controls (920,998) and (940,1000) .. ([xshift=-20pt]sysstack.north);
\node[lbl] (lab80) at (890.5,979.6) {0.16s};
\draw[ln, eBei] (gcbg) -- (sysstack);
\node[lbl] (lab81) at (974,979.6) {0.44s};
\draw[ln, eGryb, dotd] ([xshift=-18.5pt]syscall.south) -- ([xshift=16pt]sysstack.north);
\node[lbl] (lab82) at (1026,979.6) {0.13s};
\draw[ln, eSys] (syscall) -- (raw6);
\node[lbl] (lab83) at (1058.7,979.6) {2.17s};

% bottom part
\draw[ln, eOrb, dotd] (mcall) -- (sched);
\node[lbl] (lab84) at (558.4,1060.2) {1.71s};
\draw[ln, eBei] ([xshift=17pt]newstack.south) -- ([xshift=-19pt]copystack.north);
\node[lbl] (lab85) at (678.6,1059.8) {0.53s};
\draw[ln, eBei] (sysstack) -- (gcbgf2);
\node[lbl] (lab86) at (974.1,1059.8) {0.44s};
\draw[ln, eGryc, dotd] ([xshift=-17.5pt]sysstack.south) .. controls (920,1080) and (850,1120) .. ([xshift=24pt]unext.north);
\node[lbl] (lab87) at (899.6,1092.5) {0.02s};
\draw[ln, eGryc, dotd] ([xshift=-21pt]sysstack.south) .. controls (900,1052) and (720,1045) .. (680,1065) .. controls (660,1080) and (663,1150) .. (663,1250) .. controls (663,1320) and (650,1360) .. ([xshift=20pt]unlock.north);
\node[lab] (lab88) at (681.9,1199.3) {0.07s\\(inline)};
\draw[ln, eSys] (raw6) -- (sys6);
\node[lbl] (lab89) at (1058.6,1199.5) {2.19s};
\draw[ln, eOrb] (sched) -- (findrun);
\node[lbl] (lab90) at (558.6,1125.4) {1.59s};
\draw[ln, eBeib] (copystack) -- (adjf);
\node[lbl] (lab91) at (713.5,1125.7) {0.28s};
\draw[ln, eGryb] ([xshift=12.6pt]copystack.south) -- ([xshift=-20pt]unext.north);
\node[lbl] (lab92) at (753.8,1125.7) {0.15s};
\draw[ln, eBei, dotd] (gcbgf2) -- (gcdrain);
\node[lbl] (lab93) at (974.1,1125.7) {0.44s};
\draw[ln, eGry] ([xshift=-28.3pt]findrun.south) .. controls (515,1190) and (503,1205) .. ([xshift=2.4pt]checkt.north);
\node[lbl] (lab94) at (517.3,1199.2) {0.19s};
\draw[ln, eGryc, dotd] ([xshift=-1.6pt]findrun.south) .. controls (553,1230) and (545,1280) .. ([xshift=1pt]nanotime.north);
\node[lab] (lab95) at (570,1240.2) {0.04s\\(inline)};
\draw[ln, eGryc] ([xshift=11.8pt]findrun.south) .. controls (595,1220) and (605,1280) .. ([xshift=1pt]unlock.north);
\node[lab] (lab96) at (620.5,1281.3) {0.04s\\(inline)};
\draw[ln, eTan] (findrun.south east) .. controls (605,1190) and (610,1215) .. (650,1218) .. controls (720,1220) and (790,1215) .. ([yshift=-3.7pt]netpoll.north west);
\node[lbl] (lab97) at (623.9,1199.2) {1.16s};
\draw[ln, eGry] (adjf) -- (gsm);
\node[lbl] (lab98) at (715,1199.5) {0.18s};
\draw[ln, eGryb] (unext) -- (resint);
\node[lbl] (lab99) at (788.3,1199.5) {0.14s};
\draw[ln, eGryc, dotd] ([xshift=-17.7pt]gcdrain.south) -- ([xshift=22.3pt]netpoll.north);
\node[lbl] (lab100) at (937.6,1199.5) {0.02s};
\draw[ln, eBeib] (gcdrain) -- (scanobj);
\node[lbl] (lab101) at (974.1,1199.5) {0.38s};
\draw[ln, eGryb, dotd] ([xshift=-21.9pt]checkt.south) .. controls (465,1270) and (461,1285) .. ([xshift=-3.5pt]runone.north);
\node[lbl] (lab102) at (467.8,1280.9) {0.13s};
\draw[ln, eGryc] (checkt.south) .. controls (498.5,1285) and (505,1295) .. ([xshift=-25pt]nanotime.north);
\node[lab] (lab103) at (526.3,1281.3) {0.03s\\(inline)};
\draw[ln, eGry, dotd] ([xshift=-11pt]resint.south) -- ([xshift=15pt]pcvalue.north);
\node[lbl] (lab104) at (770.6,1280.9) {0.16s};
\draw[ln, eGryb, dotd] ([xshift=6.4pt]gsm.south) -- ([xshift=-6.3pt]pcvalue.north);
\node[lbl] (lab105) at (729,1280.9) {0.14s};
\draw[ln, eTan] (netpoll) -- (epoll);
\node[lbl] (lab106) at (880.4,1281.2) {1.16s};
\draw[ln, eGryb] (scanobj) -- (findobj);
\node[lbl] (lab107) at (973.9,1281.2) {0.12s};
\draw[ln, eGryc] ([xshift=26.3pt]runone.south) -- ([xshift=-23.8pt]unlock.north);
\node[lab] (lab108) at (556.7,1358.9) {0.03s\\(inline)};
\draw[ln, eGryb] (pcvalue) -- (step);
\node[lbl] (lab109) at (738.1,1358.9) {0.14s};
\draw[ln, eTan] (epoll.south east) -- ([xshift=-56pt]sys6.north);
\node[lbl] (lab110) at (974.5,1358.8) {1.13s};
\draw[ln, eGryb, dotd] (unlock) -- (unlock2);
\node[lbl] (lab111) at (606.9,1450.4) {0.13s};
\draw[ln, eGryc, dotd] (unlock2) -- (futex);
\node[lbl] (lab112) at (606.9,1518.4) {0.06s};
\end{tikzpicture}
\end{document}
